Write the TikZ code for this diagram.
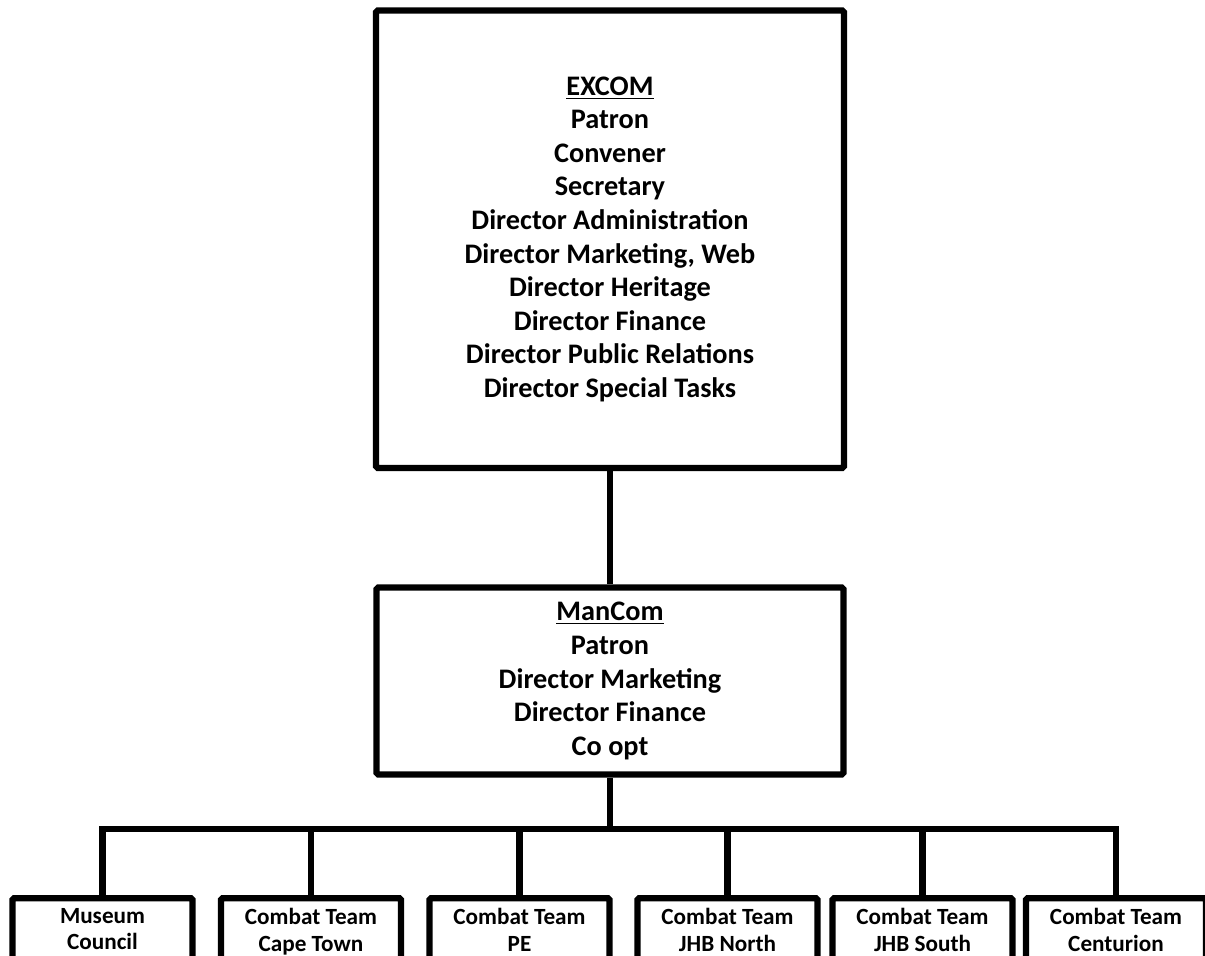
\documentclass[tikz,border=0pt]{standalone}
\usepackage{fontspec}
\setmainfont{Carlito}
\begin{document}
\begin{tikzpicture}[
        bigbox/.style={draw, line width=3.6pt, rounded corners=1pt, align=center,
            font=\bfseries\fontsize{16.1}{19.1}\selectfont},
        teambox/.style={draw, line width=3.6pt, rounded corners=1pt, align=center,
            anchor=north, minimum width=3.6cm, inner ysep=0.2cm, text depth=2cm,
            font=\bfseries\fontsize{13.2}{15.2}\selectfont},
        link/.style={line width=3.6pt}
    ]
        \useasboundingbox (0,0) rectangle (24.1,-19.12);
        \clip (0,0) rectangle (24.1,-19.12);

        \node[bigbox, minimum width=9.36cm, minimum height=9.15cm] (excom) at (12.2,-4.785)
            {\underline{EXCOM}\\Patron\\Convener\\Secretary\\Director Administration\\
             Director Marketing, Web\\Director Heritage\\Director Finance\\
             Director Public Relations\\Director Special Tasks};
        \node[bigbox, minimum width=9.34cm, minimum height=3.74cm] (mancom) at (12.2,-13.62)
            {\underline{ManCom}\\Patron\\Director Marketing\\Director Finance\\Co opt};

        \coordinate (bus) at (12.2,-16.58);

        \node[teambox] (museum) at (2.05,-17.9) {Museum\\Council};
        \node[teambox] (capetown) at (6.22,-17.9) {Combat Team\\Cape Town};
        \node[teambox] (pe) at (10.39,-17.9) {Combat Team\\PE};
        \node[teambox] (jhbnorth) at (14.55,-17.9) {Combat Team\\JHB North};
        \node[teambox] (jhbsouth) at (18.45,-17.9) {Combat Team\\JHB South};
        \node[teambox] (centurion) at (22.32,-17.9) {Combat Team\\Centurion};

        \draw[link] (excom) -- (mancom);
        \draw[link] (mancom) -- (bus);
        \draw[link] (museum.north) |- (bus) -| (centurion.north);
        \foreach \n in {capetown,pe,jhbnorth,jhbsouth}
            \draw[link] (\n.north) -- (\n.north |- bus);

    \end{tikzpicture}
\end{document}
